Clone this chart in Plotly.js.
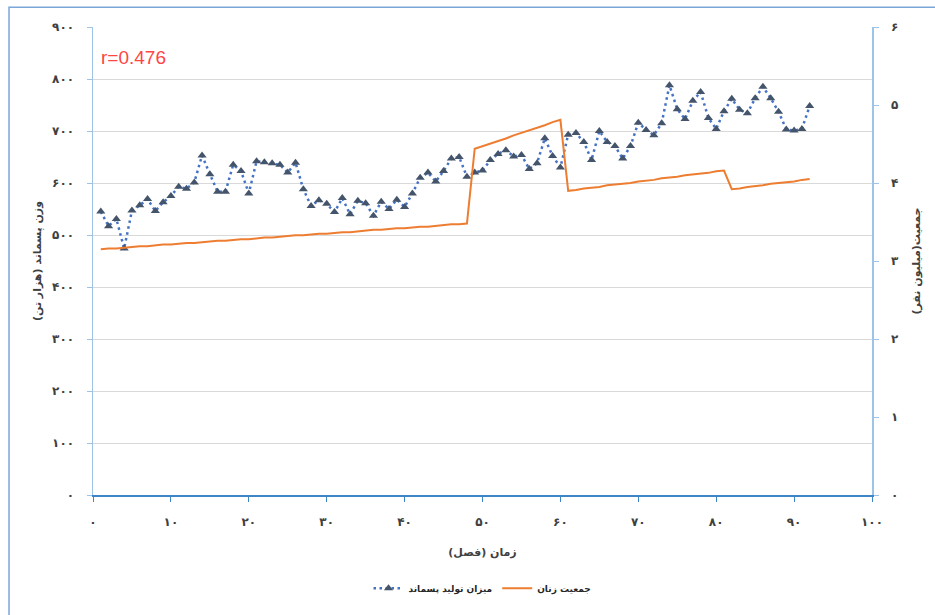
<!DOCTYPE html>
<html>
<head>
<meta charset="utf-8">
<script src="https://cdn.plot.ly/plotly-3.0.1.min.js"></script>
<style>
  html, body { margin: 0; padding: 0; background: #ffffff; }
  #chart { width: 935px; height: 615px; }
</style>
</head>
<body>
<div id="chart"></div>
<script>
// Quarter index (x axis)
const quarters = [1,2,3,4,5,6,7,8,9,10,11,12,13,14,15,16,17,18,19,20,
  21,22,23,24,25,26,27,28,29,30,31,32,33,34,35,36,37,38,39,40,
  41,42,43,44,45,46,47,48,49,50,51,52,53,54,55,56,57,58,59,60,
  61,62,63,64,65,66,67,68,69,70,71,72,73,74,75,76,77,78,79,80,
  81,82,83,84,85,86,87,88,89,90,91,92];

// Waste generated (thousand tonnes), left axis
const wasteTonnes = [545,517,531,474,547,557,569,546,563,575,593,589,601,653,617,583,583,635,623,580,
  642,640,638,635,620,639,588,556,567,560,544,571,540,566,561,537,564,550,568,554,
  580,610,620,603,623,647,650,612,620,624,644,656,663,651,654,627,638,686,652,630,
  693,696,679,644,700,679,671,647,671,716,702,692,715,788,742,723,758,775,725,704,
  738,762,741,734,763,785,763,737,703,701,704,748];

// Female population (million people), right axis
const womenPopulation = [3.15,3.16,3.16,3.17,3.18,3.19,3.19,3.20,3.21,3.21,3.22,3.23,3.23,3.24,3.25,3.26,3.26,3.27,3.28,3.28,
  3.29,3.30,3.30,3.31,3.32,3.33,3.33,3.34,3.35,3.35,3.36,3.37,3.37,3.38,3.39,3.40,3.40,3.41,3.42,3.42,
  3.43,3.44,3.44,3.45,3.46,3.47,3.47,3.48,4.44,4.47,4.51,4.54,4.57,4.61,4.64,4.68,4.71,4.74,4.78,4.81,
  3.90,3.91,3.93,3.94,3.95,3.97,3.98,3.99,4.00,4.02,4.03,4.04,4.06,4.07,4.08,4.10,4.11,4.12,4.13,4.15,
  4.16,3.92,3.93,3.95,3.96,3.97,3.99,4.00,4.01,4.02,4.04,4.05];

// Tick values and their Persian labels
const xTickVals = [0,10,20,30,40,50,60,70,80,90,100];
const xTickText = ['۰','۱۰','۲۰','۳۰','۴۰','۵۰','۶۰','۷۰','۸۰','۹۰','۱۰۰'];
const leftTickVals = [0,100,200,300,400,500,600,700,800,900];
const leftTickText = ['۰','۱۰۰','۲۰۰','۳۰۰','۴۰۰','۵۰۰','۶۰۰','۷۰۰','۸۰۰','۹۰۰'];
const rightTickVals = [0,1,2,3,4,5,6];
const rightTickText = ['۰','۱','۲','۳','۴','۵','۶'];

const wasteName = 'میزان تولید پسماند';
const populationName = 'جمعیت زنان';
const correlationLabel = 'r=0.476';

const tickFont = { family: 'DejaVu Sans', size: 12, color: '#404040', weight: 'bold' };
const titleFont = { family: 'DejaVu Sans', size: 11, color: '#404040', weight: 'bold' };

const traces = [
  {
    x: quarters, y: wasteTonnes, name: wasteName,
    type: 'scatter', mode: 'lines+markers', yaxis: 'y',
    line: { color: '#4472c4', width: 2.5, dash: '2.5px,3.5px' },
    marker: { symbol: 'triangle-up', size: 8, color: '#44546a' }
  },
  {
    x: quarters, y: womenPopulation, name: populationName,
    type: 'scatter', mode: 'lines', yaxis: 'y2',
    line: { color: '#ed7d31', width: 2 }
  }
];

const layout = {
  width: 935, height: 615,
  margin: { l: 93, r: 63, t: 27, b: 115 },
  paper_bgcolor: '#ffffff', plot_bgcolor: '#ffffff',
  showlegend: true,
  legend: {
    orientation: 'h', x: 0.5, xanchor: 'center', y: -0.199, yanchor: 'middle',
    font: { family: 'DejaVu Sans', size: 9, color: '#262626', weight: 'bold' },
    itemwidth: 30
  },
  xaxis: {
    range: [0, 100], tickvals: xTickVals, ticktext: xTickText,
    showgrid: false, zeroline: false,
    showline: true, linecolor: '#3d85c6', linewidth: 1.5,
    ticks: 'outside', ticklen: 5, tickcolor: '#3d85c6', tickwidth: 1,
    ticklabelstandoff: 10,
    tickfont: tickFont,
    title: { text: 'زمان (فصل)', font: titleFont, standoff: 20 }
  },
  yaxis: {
    range: [0, 900], tickvals: leftTickVals, ticktext: leftTickText,
    showgrid: true, gridcolor: '#d9d9d9', gridwidth: 1, zeroline: false,
    showline: true, linecolor: '#9dc3e6', linewidth: 1.5,
    ticks: 'outside', ticklen: 5, tickcolor: '#9dc3e6', tickwidth: 1,
    ticklabelstandoff: 10,
    tickfont: tickFont,
    title: { text: 'وزن پسماند (هزار تن)', font: titleFont, standoff: 8 }
  },
  yaxis2: {
    range: [0, 6], tickvals: rightTickVals, ticktext: rightTickText,
    overlaying: 'y', side: 'right',
    showgrid: false, zeroline: false,
    showline: true, linecolor: '#9dc3e6', linewidth: 1.5,
    ticks: 'outside', ticklen: 5, tickcolor: '#9dc3e6', tickwidth: 1,
    ticklabelstandoff: 10,
    tickfont: tickFont,
    title: { text: 'جمعیت(میلیون نفر)', font: titleFont, standoff: 14 }
  },
  annotations: [{
    text: correlationLabel, xref: 'paper', yref: 'paper',
    x: 0.008, y: 0.935, xanchor: 'left', yanchor: 'middle', showarrow: false,
    font: { family: 'Liberation Sans', size: 19, color: '#ff4444' }
  }],
  shapes: [{
    // chart frame
    type: 'rect', xref: 'paper', yref: 'paper',
    x0: -0.1078, x1: 1.09, y0: -0.3, y1: 1.0423,
    line: { color: '#7aa6da', width: 1.5 }, fillcolor: 'rgba(0,0,0,0)', layer: 'below'
  }]
};

Plotly.newPlot('chart', traces, layout, { displayModeBar: false, staticPlot: true });
</script>
</body>
</html>
